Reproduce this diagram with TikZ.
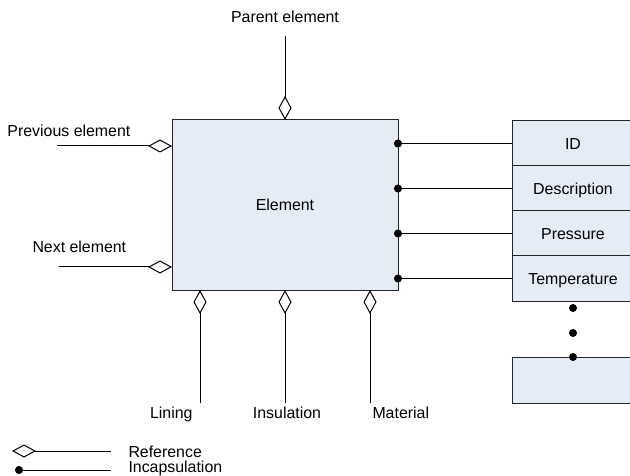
\documentclass[tikz,border=0pt]{standalone}
\usepackage{fontspec}
\setmainfont{Liberation Sans}
\usetikzlibrary{arrows.meta, positioning}
\definecolor{boxblue}{RGB}{230,236,246}

\begin{document}
\begin{tikzpicture}[x=1pt, y=-1pt, line width=1pt, font=\fontsize{15.9}{19}\selectfont,
  box/.style={draw=black!85, fill=boxblue, outer sep=0pt, minimum width=226pt, minimum height=170pt},
  field/.style={draw=black!85, fill=boxblue, outer sep=0pt, minimum width=122pt, minimum height=45pt, text height=11.4pt, text depth=0pt},
  lbl/.style={inner sep=0pt},
  dot/.style={circle, fill=black, inner sep=0pt, minimum size=8pt},
  reference/.style={-{Diamond[open, length=24pt, width=13pt]}},
  incapsulation/.style={{Circle[length=8pt]}-, shorten <=-4pt}]
  \path[use as bounding box, clip] (0,0) rectangle (630,476);

  % main element
  \node[box] (elem) at (285,205) {Element};

  % fields
  \node[field] (id) at (573,143.5) {ID};
  \node[field, below=0pt of id] (desc) {Description};
  \node[field, below=0pt of desc] (pres) {Pressure};
  \node[field, below=0pt of pres] (temp) {Temperature};
  \node[field, minimum height=46pt] (last) at (573,380) {};
  \node[dot] (dot1) at (573,308) {};
  \node[dot] (dot2) at (573,333) {};
  \node[dot] (dot3) at (last.north) {};
  \foreach \f in {id, desc, pres, temp}
    \draw[incapsulation] (elem.east |- \f) -- (\f.west);

  % references
  \node[lbl, anchor=base] (parent) at (285,23) {Parent element};
  \coordinate (ptop) at (285,36);
  \draw[reference] (ptop) -- (elem.north);

  \node[lbl, anchor=base west] (prev) at (7,137) {Previous element};
  \coordinate (pstart) at (57,146);
  \draw[reference] (pstart) -- (pstart -| elem.west);

  \node[lbl, anchor=base west] (next) at (32,252) {Next element};
  \coordinate (nstart) at (59,267);
  \draw[reference] (nstart) -- (nstart -| elem.west);

  \coordinate (lin) at (200,403);
  \coordinate (ins) at (285,403);
  \coordinate (mat) at (370,403);
  \foreach \c in {lin, ins, mat}
    \draw[reference] (\c) -- (\c |- elem.south);
  \node[lbl, anchor=base east] (lining) at (193,418) {Lining};
  \node[lbl, anchor=base] (insul) at (287,418) {Insulation};
  \node[lbl, anchor=base west] (material) at (372,418) {Material};

  % legend
  \coordinate (refr) at (111,451);
  \coordinate (refl) at (12,451);
  \draw[reference] (refr) -- (refl);
  \node[lbl, anchor=base west] (reftext) at (128,457) {Reference};
  \coordinate (incl) at (19,470);
  \coordinate (incr) at (111,470);
  \draw[incapsulation] (incl) -- (incr);
  \node[lbl, anchor=base west] (inctext) at (128,472.5) {Incapsulation};
\end{tikzpicture}
\end{document}
